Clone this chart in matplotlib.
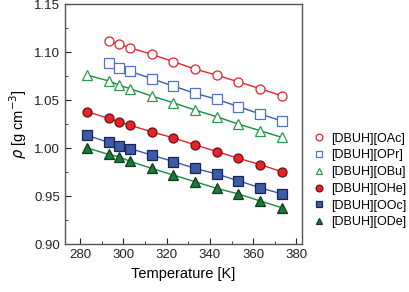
import matplotlib
matplotlib.use("Agg")
import matplotlib.pyplot as plt
from matplotlib.ticker import MultipleLocator

temps = [283.15, 293.15, 298.15, 303.15, 313.15, 323.15, 333.15, 343.15, 353.15, 363.15, 373.15]

oac = [None, 1.1115, 1.108, 1.1045, 1.0976, 1.090, 1.0823, 1.076, 1.069, 1.062, 1.0545]
opr = [None, 1.0883, 1.0833, 1.080, 1.0722, 1.0646, 1.057, 1.0509, 1.0432, 1.0356, 1.0283]
obu = [1.0761, 1.070, 1.0656, 1.0618, 1.0542, 1.0472, 1.0396, 1.0327, 1.025, 1.0182, 1.0112]
ohe = [1.038, 1.031, 1.0273, 1.0238, 1.0169, 1.0106, 1.0034, 0.9964, 0.9894, 0.9829, 0.9755]
ooc = [1.0133, 1.006, 1.0026, 0.9995, 0.9926, 0.986, 0.9788, 0.973, 0.966, 0.9587, 0.9523]
ode = [1.0003, 0.9934, 0.9909, 0.9861, 0.9788, 0.9719, 0.965, 0.958, 0.9523, 0.945, 0.938]

labels = ["[DBUH][OAc]", "[DBUH][OPr]", "[DBUH][OBu]",
          "[DBUH][OHe]", "[DBUH][OOc]", "[DBUH][ODe]"]

RED = "#e8222b"
BLUE = "#3d5aa8"
GREEN = "#1d8a3e"

styles = [
    dict(marker="o", color=RED, mfc="white", mec=RED),
    dict(marker="s", color=BLUE, mfc="white", mec="#4f72c4"),
    dict(marker="^", color=GREEN, mfc="white", mec="#2a9a4a"),
    dict(marker="o", color=RED, mfc=RED, mec="#6a1010"),
    dict(marker="s", color=BLUE, mfc=BLUE, mec="#1a2450"),
    dict(marker="^", color=GREEN, mfc="#1a7a38", mec="#0d3a1a"),
]

plt.rcParams["font.family"] = ["Liberation Sans", "DejaVu Sans"]

fig = plt.figure(figsize=(4.09, 2.92), dpi=100)
ax = fig.add_axes([0.159, 0.164, 0.579, 0.822])

for series, label, st in zip([oac, opr, obu, ohe, ooc, ode], labels, styles):
    xs = [t for t, v in zip(temps, series) if v is not None]
    ys = [v for v in series if v is not None]
    ax.plot(xs, ys, linestyle="-", linewidth=1.0, color=st["color"],
            marker=st["marker"], markersize=6.5, markerfacecolor=st["mfc"],
            markeredgecolor=st["mec"], markeredgewidth=0.9, label=label)

ax.set_xlim(273, 382.5)
ax.set_ylim(0.90, 1.15)
ax.xaxis.set_major_locator(MultipleLocator(20))
ax.xaxis.set_minor_locator(MultipleLocator(10))
ax.yaxis.set_major_locator(MultipleLocator(0.05))
ax.yaxis.set_minor_locator(MultipleLocator(0.025))
ax.yaxis.set_major_formatter(plt.FormatStrFormatter("%.2f"))
ax.tick_params(which="both", direction="in", top=False, right=False,
               labelsize=9.5, colors="#222222")
ax.tick_params(which="major", length=4)
ax.tick_params(which="minor", length=2.5)
for sp in ax.spines.values():
    sp.set_color("#555555")
    sp.set_linewidth(1.0)

ax.set_xlabel("Temperature [K]", fontsize=10.5)
ax.set_ylabel(r"$\rho$ [g cm$^{-3}$]", fontsize=10.5)

leg = ax.legend(loc="center left", bbox_to_anchor=(1.015, 0.265), frameon=False,
                fontsize=9, handlelength=0.8, handletextpad=0.55, labelspacing=0.38,
                borderpad=0.2, markerscale=0.75)
for line in leg.get_lines():
    line.set_linestyle("None")

fig.savefig("out.png", dpi=100)
